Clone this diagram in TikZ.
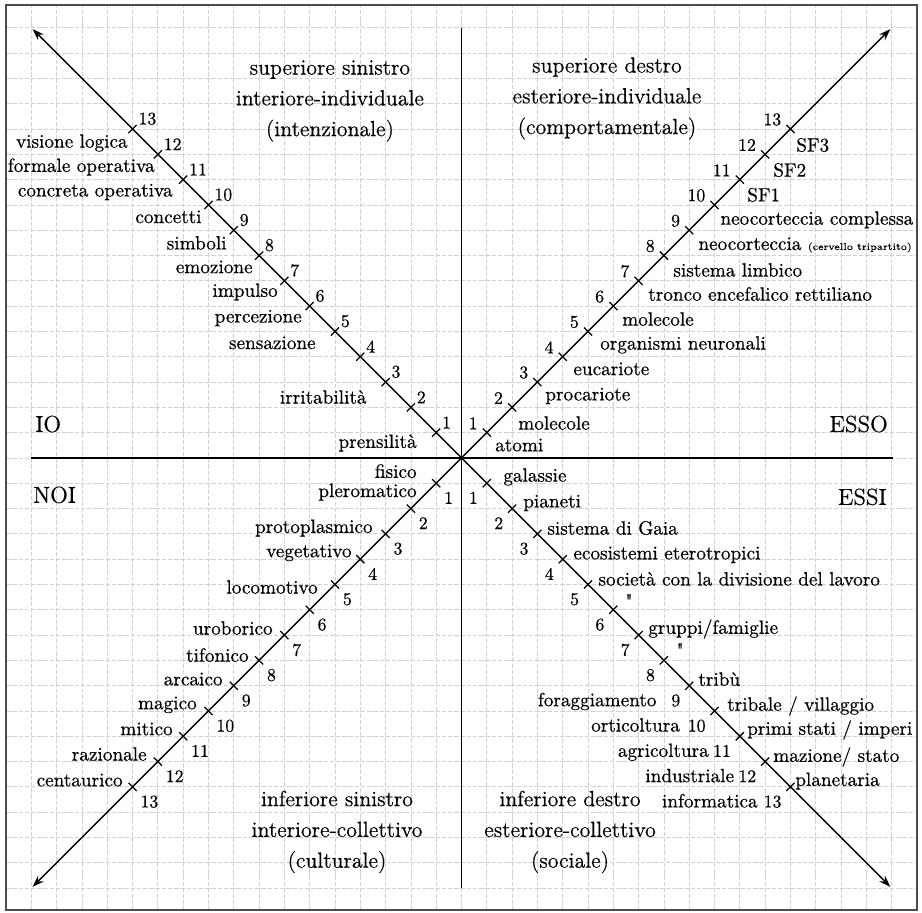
\documentclass[tikz,border=0pt]{standalone}
\usepackage{fontspec}
\setmainfont{Latin Modern Roman}[FakeBold=0.5]
\newfontfamily\dittofont{Latin Modern Roman}[Ligatures=TeXOff,FakeBold=0.5]
\usetikzlibrary{arrows.meta,positioning}
\tikzset{
  every node/.style={font=\fontsize{10.8}{12}\selectfont,inner sep=0pt},
  livello/.style={font=\fontsize{10.8}{12}\selectfont},
  numero/.style={font=\fontsize{10}{11}\selectfont},
  quadrante/.style={align=center,font=\fontsize{12.3}{17.3}\selectfont},
  pronome/.style={font=\fontsize{13}{15}\selectfont},
  asse/.style={draw=black,line width=1.1pt},
  diagonale/.style={draw=black,line width=0.8pt,<->,>={Stealth[length=6.5pt,width=4.5pt]}},
  tacca/.style={draw=black,line width=0.7pt},
  griglia/.style={draw=black!18,line width=0.45pt,dash pattern=on 2.5pt off 1pt}
}

\begin{document}
\begin{tikzpicture}[x=0.5cm,y=0.5cm]
  \useasboundingbox (-18.24,-17.98) rectangle (18.20,18.10);

  % Carta quadrettata e cornice.
  \draw[griglia,step=1] (-18,-17.9) grid (18,17.9);
  \draw[draw=black!70,line width=1pt] (-18,-17.87) rectangle (18,17.9);

  % Estremi degli assi e delle diagonali.
  \coordinate (ovest) at (-17,0);
  \coordinate (est) at (17.05,0);
  \coordinate (nord) at (0,17);
  \coordinate (sud) at (0,-17);
  \coordinate (nordovest) at (-16.95,16.95);
  \coordinate (nordest) at (16.95,16.95);
  \coordinate (sudovest) at (-16.95,-16.95);
  \coordinate (sudest) at (16.95,-16.95);

  \draw[asse] (ovest) -- (est);
  \draw[asse] (nord) -- (sud);
  \draw[diagonale] (sudest) -- (nordovest);
  \draw[diagonale] (sudovest) -- (nordest);

  % Tacche e numeri dei livelli, uguali nei quattro quadranti.
  \foreach \k in {1,...,13} {
    \draw[tacca] (-\k,\k) ++(-0.16,-0.16) -- ++(0.32,0.32);
    \draw[tacca] (\k,\k) ++(-0.16,0.16) -- ++(0.32,-0.32);
    \draw[tacca] (-\k,-\k) ++(-0.16,0.16) -- ++(0.32,-0.32);
    \draw[tacca] (\k,-\k) ++(-0.16,-0.16) -- ++(0.32,0.32);
    \node[numero,anchor=south west] (ss-\k) at (-\k+0.22,\k+0.15) {\k};
    \node[numero,anchor=south east] (sd-\k) at (\k-0.35,\k+0.12) {\k};
    \node[numero,anchor=north west] (is-\k) at (-\k+0.30,-\k-0.33) {\k};
    \node[numero,anchor=north east] (id-\k) at (\k-0.34,-\k-0.33) {\k};
  }

  % Titoli dei quadranti.
  \node[quadrante] (sup-sinistro) at (-5.20,14.11)
    {superiore sinistro\\interiore-individuale\\(intenzionale)};
  \node[quadrante] (sup-destro) at (5.75,14.21)
    {superiore destro\\esteriore-individuale\\(comportamentale)};
  \node[quadrante] (inf-sinistro) at (-4.92,-14.78)
    {inferiore sinistro\\interiore-collettivo\\(culturale)};
  \node[quadrante] (inf-destro) at (4.29,-14.78)
    {inferiore destro\\esteriore-collettivo\\(sociale)};

  % Pronomi ai lati dell'asse orizzontale.
  \node[pronome,anchor=west] (io) at (-16.86,1.34) {IO};
  \node[pronome,anchor=east] (esso) at (16.86,1.34) {ESSO};
  \node[pronome,anchor=west] (noi) at (-16.94,-1.46) {NOI};
  \node[pronome,anchor=east] (essi) at (16.82,-1.54) {ESSI};

  % Superiore sinistro: livelli interiori.
  \node[livello,anchor=east] (prensilita) at (-1.76,0.59) {prensilità};
  \node[livello,anchor=east] (irritabilita) at (-3.74,2.41) {irritabilità};
  \node[livello,anchor=east] (sensazione) at (-5.75,4.55) {sensazione};
  \node[livello,anchor=east] (percezione) at (-6.30,5.53) {percezione};
  \node[livello,anchor=east] (impulso) at (-7.25,6.56) {impulso};
  \node[livello,anchor=east] (emozione) at (-8.24,7.55) {emozione};
  \node[livello,anchor=east] (simboli) at (-9.27,8.50) {simboli};
  \node[livello,anchor=east] (concetti) at (-10.26,9.53) {concetti};
  \node[livello,anchor=east] (concreta) at (-11.40,10.51) {concreta operativa};
  \node[livello,anchor=east] (formale) at (-12.11,11.50) {formale operativa};
  \node[livello,anchor=east] (visione) at (-13.18,12.45) {visione logica};

  % Superiore destro: organismi.
  \node[livello,anchor=west] (atomi) at (1.32,0.51) {atomi};
  \node[livello,anchor=west] (molecole) at (2.23,1.38) {molecole};
  \node[livello,anchor=west] (procariote) at (3.30,2.45) {procariote};
  \node[livello,anchor=west] (eucariote) at (4.41,3.52) {eucariote};
  \node[livello,anchor=west] (neuronali) at (5.47,4.47) {organismi neuronali};
  \node[livello,anchor=west] (molecole-b) at (6.34,5.49) {molecole};
  \node[livello,anchor=west] (tronco) at (7.37,6.48) {tronco encefalico rettiliano};
  \node[livello,anchor=west] (limbico) at (8.36,7.43) {sistema limbico};
  \node[livello,anchor=west] (neocorteccia) at (9.35,8.42)
    {neocorteccia {\fontsize{5.6}{6}\selectfont(cervello tripartito)}};
  \node[livello,anchor=west] (complessa) at (10.22,9.41) {neocorteccia complessa};
  \node[livello,anchor=west] (sf1) at (11.28,10.40) {SF1};
  \node[livello,anchor=west] (sf2) at (12.31,11.38) {SF2};
  \node[livello,anchor=west] (sf3) at (13.22,12.37) {SF3};

  % Inferiore sinistro: visioni del mondo.
  \node[livello,anchor=east,align=right,font=\fontsize{10.8}{10.8}\selectfont]
    (fisico) at (-1.76,-0.97) {fisico\\pleromatico};
  \node[livello,anchor=east] (protoplasmico) at (-3.50,-2.77) {protoplasmico};
  \node[livello,anchor=east] (vegetativo) at (-4.33,-3.75) {vegetativo};
  \node[livello,anchor=east] (locomotivo) at (-5.67,-5.10) {locomotivo};
  \node[livello,anchor=east] (uroborico) at (-7.45,-6.72) {uroborico};
  \node[livello,anchor=east] (tifonico) at (-8.40,-7.79) {tifonico};
  \node[livello,anchor=east] (arcaico) at (-9.43,-8.74) {arcaico};
  \node[livello,anchor=east] (magico) at (-10.45,-9.76) {magico};
  \node[livello,anchor=east] (mitico) at (-11.40,-10.71) {mitico};
  \node[livello,anchor=east] (razionale) at (-12.43,-11.70) {razionale};
  \node[livello,anchor=east] (centaurico) at (-13.38,-12.73) {centaurico};

  % Inferiore destro: sistemi sociali.
  \node[livello,anchor=west] (galassie) at (1.64,-0.75) {galassie};
  \node[livello,anchor=west] (pianeti) at (2.43,-1.78) {pianeti};
  \node[livello,anchor=west] (gaia) at (3.38,-2.77) {sistema di Gaia};
  \node[livello,anchor=west] (ecosistemi) at (4.41,-3.83) {ecosistemi eterotropici};
  \node[livello,anchor=west] (societa) at (5.40,-4.78) {società con la divisione del lavoro};
  \node[livello] (idem-a) at (6.62,-5.65) {\dittofont"};
  \node[livello,anchor=west] (gruppi) at (7.37,-6.76) {gruppi/famiglie};
  \node[livello] (idem-b) at (8.64,-7.59) {\dittofont"};
  \node[livello,anchor=west] (tribu) at (9.35,-8.74) {tribù};
  \node[livello,anchor=west] (villaggio) at (10.49,-9.80) {tribale / villaggio};
  \node[livello,anchor=west] (imperi) at (11.28,-10.75) {primi stati / imperi};
  \node[livello,anchor=west] (stato) at (12.31,-11.82) {mazione/ stato};
  \node[livello,anchor=west] (planetaria) at (13.18,-12.77) {planetaria};

  % Basi tecno-economiche, a sinistra dei numeri.
  \node[livello,base left=8pt of id-9] (foraggiamento) {foraggiamento};
  \node[livello,base left=4pt of id-10] (orticoltura) {orticoltura};
  \node[livello,base left=2pt of id-11] (agricoltura) {agricoltura};
  \node[livello,base left=2pt of id-12] (industriale) {industriale};
  \node[livello,base left=3pt of id-13] (informatica) {informatica};
\end{tikzpicture}
\end{document}
